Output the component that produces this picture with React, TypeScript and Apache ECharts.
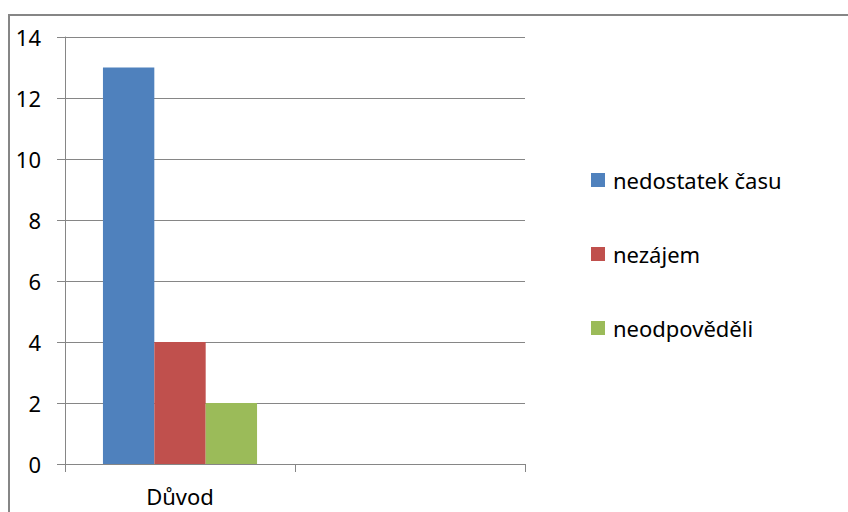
import React, { useEffect, useRef } from "react";
import * as echarts from "echarts";

const categories = ["Důvod", ""];
const seriesNames = ["nedostatek času", "nezájem", "neodpověděli"];
const nedostatekCasu = [13, null];
const nezajem = [4, null];
const neodpovedeli = [2, null];
const colors = ["#4F81BD", "#C0504D", "#9BBB59"];
const yTicks = { min: 0, max: 14, interval: 2 };

export default function App() {
  const ref = useRef<HTMLDivElement>(null);
  useEffect(() => {
    if (!ref.current) return;
    const chart = echarts.init(ref.current, undefined, { renderer: "svg" });
    const font = "'Noto Sans', sans-serif";
    const values = [nedostatekCasu, nezajem, neodpovedeli];
    chart.setOption({
      animation: false,
      backgroundColor: "#ffffff",
      graphic: [
        {
          type: "rect",
          shape: { x: 9, y: 15, width: 900, height: 600 },
          style: { fill: "none", stroke: "#868686", lineWidth: 2 },
          silent: true,
        },
      ],
      grid: { left: 65, right: 323, top: 37, bottom: 48 },
      legend: {
        orient: "vertical",
        left: 586,
        top: 164,
        itemWidth: 14,
        itemHeight: 14,
        itemGap: 52,
        icon: "rect",
        textStyle: { fontFamily: font, fontSize: 22, color: "#000", padding: [0, 0, 0, 3] },
        data: seriesNames,
      },
      xAxis: {
        type: "category",
        data: categories,
        axisLine: { show: true, lineStyle: { color: "#868686", width: 1 } },
        axisTick: { show: true, length: 8, lineStyle: { color: "#868686" } },
        axisLabel: { fontFamily: font, fontSize: 22, color: "#000", margin: 21 },
        splitLine: { show: false },
      },
      yAxis: {
        type: "value",
        min: yTicks.min,
        max: yTicks.max,
        interval: yTicks.interval,
        axisLine: { show: true, lineStyle: { color: "#868686", width: 1 } },
        axisTick: { show: true, length: 8, lineStyle: { color: "#868686" } },
        axisLabel: { fontFamily: font, fontSize: 22, color: "#000", margin: 24 },
        splitLine: { show: true, lineStyle: { color: "#868686", width: 1 } },
      },
      series: seriesNames.map((name, i) => ({
        name,
        type: "bar",
        data: values[i],
        barGap: "0%",
        barCategoryGap: "33%",
        itemStyle: { color: colors[i] },
      })),
    });
    return () => chart.dispose();
  }, []);
  return (
    <div
      ref={ref}
      style={{ position: "fixed", left: 0, top: 0, width: 848, height: 512 }}
    />
  );
}
